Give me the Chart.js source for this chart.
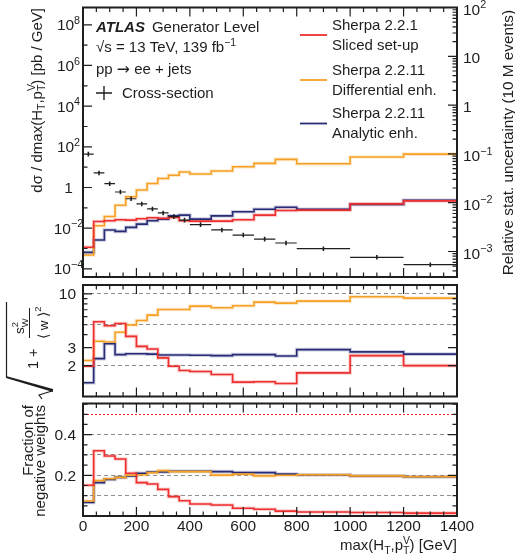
<!DOCTYPE html>
<html lang="en">
<head>
<meta charset="UTF-8">
<title>max(HT, pTV) - Sherpa set-ups</title>
<script src="https://cdn.jsdelivr.net/npm/chart.js"></script>
<style>
  body { margin: 0; background: #fff; }
  #plot { position: relative; width: 515px; height: 558px; }
  #plot canvas { position: absolute; left: 0; top: 0; }
</style>
</head>
<body>
<div id="plot">
  <canvas id="padTop" width="515" height="558"></canvas>
  <canvas id="padMid" width="515" height="558"></canvas>
  <canvas id="padBot" width="515" height="558"></canvas>
</div>
<script>
const FONT = '"Liberation Sans", Arial, Helvetica, sans-serif';
const INK = '#1e1e1e';

// bin edges of max(HT, pTV) in GeV
const binEdges = [0, 40, 80, 120, 160, 200, 240, 280, 320, 360, 400, 480, 560, 640, 720, 800, 1000, 1200, 1400];

// dsigma / dmax(HT,pTV) [pb/GeV] (left axis, top pad)
const crossSection = [44, 5.2, 1.54, 0.60, 0.28, 0.155, 0.088, 0.056, 0.037, 0.025, 0.0149, 0.0082, 0.0046, 0.0029, 0.00187, 0.00098, 0.00037, 0.00016];

// relative stat. uncertainty for 10 M events (right axis, top pad)
const uncSliced   = [0.00122, 0.00413, 0.00426, 0.00447, 0.0044, 0.00468, 0.0049, 0.00476, 0.00499, 0.00426, 0.00419, 0.00419, 0.00447, 0.00556, 0.00692, 0.00703, 0.00946, 0.0109];
const uncDiff     = [0.00085, 0.00337, 0.00522, 0.00889, 0.0132, 0.0182, 0.0247, 0.0312, 0.0364, 0.0426, 0.0387, 0.0446, 0.0547, 0.064, 0.0773, 0.063, 0.0861, 0.099];
const uncAnalytic = [0.00096, 0.00172, 0.00275, 0.00258, 0.00312, 0.00364, 0.00426, 0.0046, 0.00538, 0.00556, 0.0046, 0.00538, 0.00652, 0.00736, 0.00809, 0.00736, 0.00918, 0.0112];

// sqrt(1 + s_w^2 / <w>^2) (middle pad)
const effSliced   = [1.97, 5.35, 4.89, 5.15, 3.85, 3.08, 2.90, 2.38, 1.97, 1.79, 1.75, 1.64, 1.38, 1.39, 1.34, 1.70, 2.50, 2.00];
const effDiff     = [2.24, 3.45, 3.40, 4.22, 4.97, 5.51, 6.21, 7.05, 7.05, 7.05, 7.60, 7.32, 7.66, 8.30, 8.12, 8.49, 9.36, 9.08];
const effAnalytic = [1.36, 2.34, 3.27, 2.56, 2.61, 2.61, 2.59, 2.54, 2.54, 2.54, 2.52, 2.50, 2.56, 2.56, 2.48, 2.86, 2.72, 2.59];

// fraction of negative weights (bottom pad)
const negSliced   = [0.151, 0.321, 0.295, 0.280, 0.210, 0.164, 0.157, 0.131, 0.095, 0.075, 0.059, 0.054, 0.038, 0.033, 0.024, 0.020, 0.017, 0.014];
const negDiff     = [0.074, 0.174, 0.183, 0.190, 0.200, 0.203, 0.213, 0.223, 0.218, 0.218, 0.218, 0.201, 0.206, 0.197, 0.200, 0.203, 0.197, 0.193];
const negAnalytic = [0.066, 0.164, 0.180, 0.190, 0.197, 0.210, 0.216, 0.216, 0.220, 0.220, 0.220, 0.218, 0.213, 0.213, 0.206, 0.203, 0.197, 0.193];

// axis labels
const xTickLabels = [0, 200, 400, 600, 800, 1000, 1200, 1400];
const xsDecades = [8, 6, 4, 2, 0, -2, -4];
const uncDecades = [2, 1, 0, -1, -2, -3];
const effTickLabels = [2, 3, 10];
const effGrid = [2, 5, 10];
const negTickLabels = [0.2, 0.4];
const negGrid = [0.1, 0.2, 0.3, 0.4, 0.5];

const seriesNames = [['Sherpa 2.2.1', 'Sliced set-up'], ['Sherpa 2.2.11', 'Differential enh.'], ['Sherpa 2.2.11', 'Analytic enh.']];
const seriesColors = ['#ee2f2f', '#f6a126', '#282c77'];

// histogram as step line: one point per left bin edge plus the last edge
function steps(vals) {
  const pts = vals.map((v, i) => ({ x: binEdges[i], y: v }));
  pts.push({ x: binEdges[binEdges.length - 1], y: vals[vals.length - 1] });
  return pts;
}

function histo(vals, color, axis) {
  return [
    { data: steps(vals), yAxisID: axis, stepped: true, pointRadius: 0, borderColor: color, borderWidth: 1.6, order: 1 },
    { data: steps(vals), yAxisID: axis, stepped: true, pointRadius: 0, borderColor: color + '3a', borderWidth: 3.6, order: 5 }
  ];
}

function runFont(r, size) {
  return (r.italic ? 'italic ' : '') + (r.bold ? 'bold ' : '') + (size * (r.k || 1)).toFixed(1) + 'px ' + (r.f || FONT);
}

// text with sub/superscripts, y is the baseline
function rich(ctx, runs, x, y, size, align) {
  let w = 0;
  runs.forEach(r => { ctx.font = runFont(r, size); if (!r.keep) w += ctx.measureText(r.t).width; });
  let cx = align === 'right' ? x - w : align === 'center' ? x - w / 2 : x;
  ctx.textAlign = 'left';
  ctx.textBaseline = 'alphabetic';
  runs.forEach(r => {
    ctx.font = runFont(r, size);
    ctx.fillText(r.t, cx, y + (r.dy || 0) * size);
    if (!r.keep) cx += ctx.measureText(r.t).width;
  });
  return w;
}

function rotated(ctx, x, y, fn) {
  ctx.save();
  ctx.translate(x, y);
  ctx.rotate(-Math.PI / 2);
  fn();
  ctx.restore();
}

function powRuns(e) {
  if (e === 0) return [{ t: '1' }];
  if (e === 1) return [{ t: '10' }];
  return [{ t: '10' }, { t: String(e).replace('-', '\u2212'), k: 0.7, dy: -0.42 }];
}

const sub = t => ({ t, k: 0.7, dy: 0.25 });
const supKeep = t => ({ t, k: 0.7, dy: -0.42, keep: true });

// inward tick marks (ROOT style)
function xMarks(ctx, chart) {
  const a = chart.chartArea, sx = chart.scales.x;
  for (let v = 0; v <= 1400; v += 50) {
    const x = sx.getPixelForValue(v), len = v % 200 === 0 ? 9 : 4.5;
    ctx.moveTo(x, a.bottom); ctx.lineTo(x, a.bottom - len);
    ctx.moveTo(x, a.top); ctx.lineTo(x, a.top + len);
  }
}

function yMarks(ctx, chart, id, marks, left, right) {
  const a = chart.chartArea, s = chart.scales[id];
  marks.forEach(([v, len]) => {
    const y = s.getPixelForValue(v);
    if (left) { ctx.moveTo(a.left, y); ctx.lineTo(a.left + len, y); }
    if (right) { ctx.moveTo(a.right, y); ctx.lineTo(a.right - len, y); }
  });
}

function frame(ctx, a) {
  ctx.lineWidth = 2;
  ctx.strokeStyle = INK;
  ctx.strokeRect(a.left, a.top, a.right - a.left, a.bottom - a.top);
}

function decor(fn) {
  return { id: 'decor', afterDraw(chart) { const ctx = chart.ctx; ctx.save(); fn(chart, ctx, chart.chartArea); ctx.restore(); } };
}

function padOptions(padding, scales) {
  return {
    responsive: false, animation: false, devicePixelRatio: 1,
    layout: { padding },
    scales,
    elements: { line: { tension: 0 } },
    plugins: { legend: { display: false }, tooltip: { enabled: false } }
  };
}

const xScale = { type: 'linear', min: 0, max: 1400, display: false };

// ---------- top pad ----------
const xsBars = [];
crossSection.forEach((v, i) => {
  xsBars.push({ x: binEdges[i], y: v }, { x: binEdges[i + 1], y: v }, { x: binEdges[i + 1], y: null });
});
const xsCentres = crossSection.map((v, i) => ({ x: (binEdges[i] + binEdges[i + 1]) / 2, y: v }));

function drawTop(chart, ctx, a) {
  const yl = chart.scales.y, yr = chart.scales.y2;
  ctx.strokeStyle = INK; ctx.fillStyle = INK; ctx.lineWidth = 1.2;
  ctx.beginPath();
  xMarks(ctx, chart);
  const leftMarks = [];
  for (let e = -4; e <= 8; e++) leftMarks.push([Math.pow(10, e), e % 2 === 0 ? 9 : 4.5]);
  yMarks(ctx, chart, 'y', leftMarks, true, false);
  const rightMarks = [];
  for (let e = -4; e <= 2; e++) for (let m = 1; m <= 9; m++) {
    const v = m * Math.pow(10, e);
    if (v >= yr.min && v <= yr.max) rightMarks.push([v, m === 1 ? 9 : 4.5]);
  }
  yMarks(ctx, chart, 'y2', rightMarks, false, true);
  ctx.stroke();
  frame(ctx, a);

  xsDecades.forEach(e => rich(ctx, powRuns(e), 68.5, yl.getPixelForValue(Math.pow(10, e)) + 5.6, 15.5, 'center'));
  uncDecades.forEach(e => rich(ctx, powRuns(e), 463, yr.getPixelForValue(Math.pow(10, e)) + 7.2, 15.5, 'left'));

  rotated(ctx, 41.5, 8, () => rich(ctx, [
    { t: 'd\u03C3 / dmax(H' }, sub('T'), { t: ',p' }, supKeep('V'), sub('T'), { t: ') [pb / GeV]' }
  ], 0, 0, 15, 'right'));
  rotated(ctx, 513, 10, () => rich(ctx, [{ t: 'Relative stat. uncertainty (10 M events)' }], 0, 0, 15.3, 'right'));

  // labels in the pad
  const wAtlas = rich(ctx, [{ t: 'ATLAS', bold: true, italic: true }], 96, 31.5, 15, 'left');
  rich(ctx, [{ t: 'Generator Level' }], 96 + wAtlas + 7, 31.5, 15, 'left');
  rich(ctx, [{ t: '\u221As = 13 TeV, 139 fb' }, { t: '\u22121', k: 0.7, dy: -0.42 }], 96, 52.4, 15, 'left');
  rich(ctx, [{ t: 'pp ' }, { t: '\u2192', f: '"DejaVu Sans", sans-serif', k: 1.05, dy: -0.02 }, { t: ' ee + jets' }], 96, 74.4, 15, 'left');
  ctx.lineWidth = 1.4;
  ctx.beginPath();
  ctx.moveTo(96, 93); ctx.lineTo(112, 93);
  ctx.moveTo(104, 86); ctx.lineTo(104, 100);
  ctx.stroke();
  rich(ctx, [{ t: 'Cross-section' }], 122, 98.4, 15, 'left');

  const rowY = [[30.4, 50.4, 35], [75.4, 95.4, 80], [117.5, 138, 123.5]];
  seriesNames.forEach((nm, i) => {
    ctx.strokeStyle = seriesColors[i]; ctx.lineWidth = 1.8;
    ctx.beginPath(); ctx.moveTo(300, rowY[i][2]); ctx.lineTo(327, rowY[i][2]); ctx.stroke();
    ctx.fillStyle = INK;
    rich(ctx, [{ t: nm[0] }], 332, rowY[i][0], 15, 'left');
    rich(ctx, [{ t: nm[1] }], 332, rowY[i][1], 15, 'left');
  });
}

new Chart(document.getElementById('padTop'), {
  type: 'line',
  data: {
    datasets: [
      ...histo(uncSliced, seriesColors[0], 'y2'),
      ...histo(uncDiff, seriesColors[1], 'y2'),
      ...histo(uncAnalytic, seriesColors[2], 'y2'),
      { data: xsBars, yAxisID: 'y', borderColor: INK, borderWidth: 1.2, pointRadius: 0, spanGaps: false, order: 0 },
      { data: xsCentres, yAxisID: 'y', showLine: false, pointStyle: 'line', rotation: 90, pointRadius: 2.3,
        borderColor: INK, pointBorderWidth: 1.6, order: 0 }
    ]
  },
  options: padOptions({ left: 83, right: 58, top: 7.5, bottom: 281 }, {
    x: xScale,
    y: { type: 'logarithmic', position: 'left', min: Math.pow(10, -4.4), max: Math.pow(10, 8.85), display: false },
    y2: { type: 'logarithmic', position: 'right', min: Math.pow(10, -3.5), max: 100, display: false }
  }),
  plugins: [decor(drawTop)]
});

// ---------- middle pad ----------
function drawMid(chart, ctx, a) {
  const ys = chart.scales.y;
  ctx.strokeStyle = INK; ctx.fillStyle = INK; ctx.lineWidth = 1.2;
  ctx.beginPath();
  xMarks(ctx, chart);
  const marks = [];
  for (let m = 2; m <= 10; m++) marks.push([m, effTickLabels.includes(m) ? 9 : 4.5]);
  yMarks(ctx, chart, 'y', marks, true, true);
  ctx.stroke();
  frame(ctx, a);
  effTickLabels.forEach(v => rich(ctx, [{ t: String(v) }], 76, ys.getPixelForValue(v) + 5.4, 15.5, 'right'));

  // sqrt(1 + s_w^2 / <w>^2), rotated
  rotated(ctx, 0, 400, () => {
    ctx.strokeStyle = INK; ctx.lineWidth = 1.2;
    ctx.beginPath();
    ctx.moveTo(1, 42); ctx.lineTo(5, 39); ctx.lineTo(9, 52);
    ctx.moveTo(23, 6.5); ctx.lineTo(98, 6.5);
    ctx.stroke();
    ctx.beginPath();
    ctx.moveTo(8, 53); ctx.lineTo(22, 6); ctx.lineTo(24, 6); ctx.lineTo(11, 53);
    ctx.closePath(); ctx.fill();
    rich(ctx, [{ t: '1 +' }], 31, 38, 14.5, 'left');
    rich(ctx, [{ t: 's' }, supKeep('2'), { t: 'W', k: 0.7, dy: 0.3 }], 66, 24, 13.5, 'left');
    ctx.lineWidth = 1;
    ctx.beginPath(); ctx.moveTo(62, 29.5); ctx.lineTo(92, 29.5); ctx.stroke();
    rich(ctx, [{ t: '\u27E8 w \u27E9' }, { t: '2', k: 0.7, dy: -0.55 }], 61, 48, 13.5, 'left');
  });
}

new Chart(document.getElementById('padMid'), {
  type: 'line',
  data: {
    datasets: [
      ...histo(effSliced, seriesColors[0], 'y'),
      ...histo(effDiff, seriesColors[1], 'y'),
      ...histo(effAnalytic, seriesColors[2], 'y')
    ]
  },
  options: padOptions({ left: 83, right: 58, top: 285, bottom: 161.5 }, {
    x: xScale,
    y: {
      type: 'logarithmic', min: 1, max: 12.2,
      ticks: { display: false },
      grid: { color: '#8f8f8f', lineWidth: 1, drawTicks: false },
      border: { display: false, dash: [4, 3] },
      afterBuildTicks: s => { s.ticks = effGrid.map(value => ({ value })); },
      afterFit: s => { s.width = 0; }
    }
  }),
  plugins: [decor(drawMid)]
});

// ---------- bottom pad ----------
function drawBot(chart, ctx, a) {
  const ys = chart.scales.y, xs = chart.scales.x;
  ctx.strokeStyle = INK; ctx.fillStyle = INK; ctx.lineWidth = 1.2;
  ctx.beginPath();
  xMarks(ctx, chart);
  const marks = [];
  for (let i = 0; i <= 11; i++) marks.push([i * 0.05, i % 4 === 0 ? 9 : 4.5]);
  yMarks(ctx, chart, 'y', marks, true, true);
  ctx.stroke();
  frame(ctx, a);
  negTickLabels.forEach(v => rich(ctx, [{ t: v.toFixed(1) }], 76, ys.getPixelForValue(v) + 5.4, 15.5, 'right'));
  xTickLabels.forEach(v => rich(ctx, [{ t: String(v) }], xs.getPixelForValue(v), 530.5, 15.5, 'center'));
  rich(ctx, [{ t: 'max(H' }, sub('T'), { t: ',p' }, supKeep('V'), sub('T'), { t: ') [GeV]' }], 457, 550, 15, 'right');
  rotated(ctx, 33, 405, () => rich(ctx, [{ t: 'Fraction of' }], 0, 0, 15, 'right'));
  rotated(ctx, 45, 405, () => rich(ctx, [{ t: 'negative weights' }], 0, 0, 15, 'right'));
}

new Chart(document.getElementById('padBot'), {
  type: 'line',
  data: {
    datasets: [
      ...histo(negSliced, seriesColors[0], 'y'),
      ...histo(negDiff, seriesColors[1], 'y'),
      ...histo(negAnalytic, seriesColors[2], 'y')
    ]
  },
  options: padOptions({ left: 83, right: 58, top: 403.5, bottom: 42 }, {
    x: xScale,
    y: {
      type: 'linear', min: 0, max: 0.553,
      ticks: { display: false },
      grid: {
        color: c => (c.tick && c.tick.value === 0.5 ? '#e8262a' : '#8f8f8f'),
        lineWidth: 1, drawTicks: false
      },
      border: { display: false, dash: c => (c.tick && c.tick.value === 0.5 ? [2, 2] : [4, 3]) },
      afterBuildTicks: s => { s.ticks = negGrid.map(value => ({ value })); },
      afterFit: s => { s.width = 0; }
    }
  }),
  plugins: [decor(drawBot)]
});
</script>
</body>
</html>
